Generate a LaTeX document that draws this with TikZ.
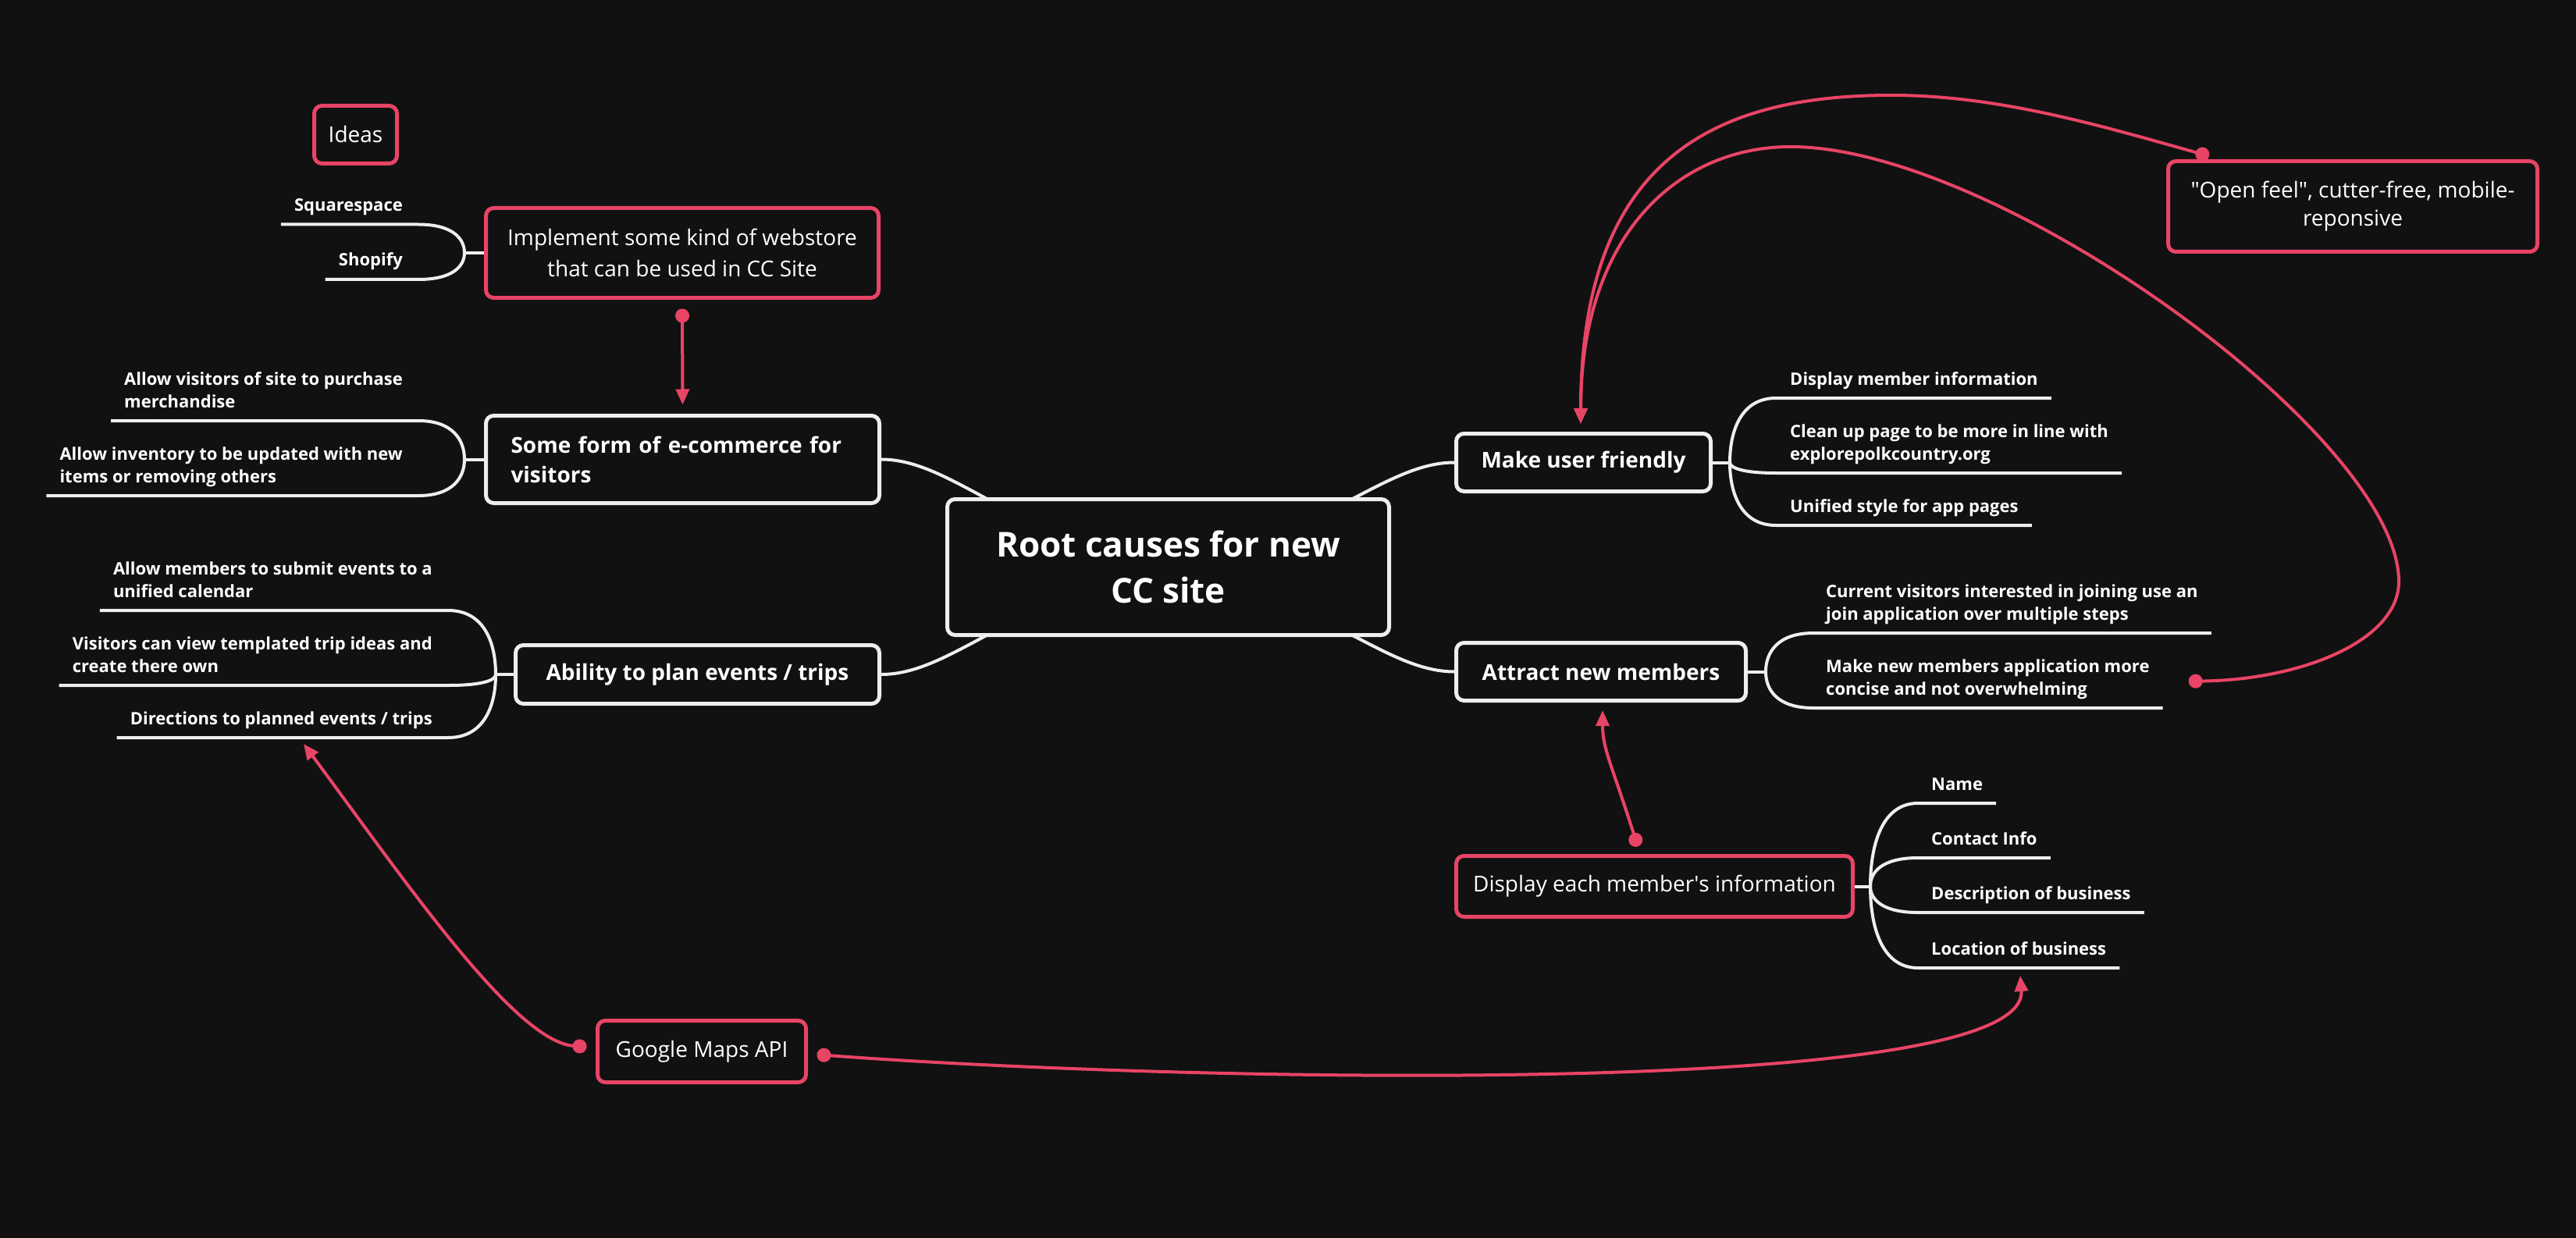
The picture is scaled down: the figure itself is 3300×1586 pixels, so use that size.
\documentclass[tikz,border=0pt]{standalone}
\usepackage{fontspec}
\setmainfont{Open Sans}
\newfontfamily\plainos{Open Sans}
\usetikzlibrary{arrows.meta,calc}
\definecolor{bgc}{HTML}{111111}
\definecolor{pinkc}{HTML}{E84466}
\definecolor{linec}{HTML}{EEEEEE}
\pgfdeclarelayer{back}
\pgfsetlayers{back,main}
\begin{document}
\begin{tikzpicture}[x=1pt,y=-1pt,
  wbox/.style={draw=linec, line width=5pt, rounded corners=10pt, fill=bgc, text=white,
    font=\fontsize{28}{38}\selectfont\bfseries, align=center, inner sep=0pt},
  pbox/.style={wbox, draw=pinkc, font=\fontsize{28}{40}\selectfont},
  leaf/.style={text=white, font=\fontsize{22}{29}\selectfont\bfseries, inner sep=0pt, align=left},
  branch/.style={draw=linec, line width=4pt},
  plink/.style={draw=pinkc, line width=4pt, {Circle[length=18pt]}-{Triangle[length=20pt,width=17pt]}},
]
\begin{pgfonlayer}{back}
\path[use as bounding box, fill=bgc] (0,0) rectangle (3300,1586);
\end{pgfonlayer}

% boxes
\node[pbox, minimum width=106pt, minimum height=74pt] (ideas) at (455.5,172.5) {Ideas};
\node[pbox, minimum width=503pt, minimum height=115pt] (impl) at (874,324) {Implement some kind of webstore\\that can be used in CC Site};
\node[wbox, minimum width=504pt, minimum height=112pt, text width=440pt, align=left] (ecom) at (874.5,588.5) {Some form of e-commerce for\\visitors};
\node[wbox, minimum width=466pt, minimum height=75pt] (abil) at (893.5,864) {Ability to plan events / trips};
\node[wbox, minimum width=566pt, minimum height=174pt, font=\fontsize{44}{59}\selectfont\bfseries] (root) at (1496.5,726.5) {Root causes for new\\CC site};
\node[wbox, minimum width=326pt, minimum height=74pt] (muf) at (2028.5,592.5) {Make user friendly};
\node[wbox, minimum width=371pt, minimum height=74pt] (att) at (2051,860.5) {Attract new members};
\node[pbox, minimum width=473pt, minimum height=116pt, font=\fontsize{28}{36}\selectfont\plainos] (open) at (3014,264.5) {"Open feel", cutter-free, mobile-\\reponsive};
\node[pbox, minimum width=508pt, minimum height=78pt] (disp) at (2119.5,1135.5) {Display each member\textquotesingle s information};
\node[pbox, minimum width=267pt, minimum height=79pt] (g) at (899,1347) {Google Maps API};

% leaves
\node[leaf, anchor=base east] (sq) at (516,270.5) {Squarespace};
\node[leaf, anchor=base east] (sh) at (516,341) {Shopify};
\node[leaf, anchor=base east] (av) at (516,522) {Allow visitors of site to purchase\\merchandise};
\node[leaf, anchor=base east] (ai) at (516,618) {Allow inventory to be updated with new\\items or removing others};
\node[leaf, anchor=base east] (am) at (554,765) {Allow members to submit events to a\\unified calendar};
\node[leaf, anchor=base east] (vc) at (554,861) {Visitors can view templated trip ideas and\\create there own};
\node[leaf, anchor=base east] (dir) at (554,928) {Directions to planned events / trips};
\node[leaf, anchor=base west] (d1) at (2293,493) {Display member information};
\node[leaf, anchor=base west] (d2) at (2293,589) {Clean up page to be more in line with\\explorepolkcountry.org};
\node[leaf, anchor=base west] (d3) at (2293,656) {Unified style for app pages};
\node[leaf, anchor=base west] (a1) at (2339,794) {Current visitors interested in joining use an\\join application over multiple steps};
\node[leaf, anchor=base west] (a2) at (2339,890) {Make new members application more\\concise and not overwhelming};
\node[leaf, anchor=base west] (n1) at (2474,1012) {Name};
\node[leaf, anchor=base west] (n2) at (2474,1082) {Contact Info};
\node[leaf, anchor=base west] (n3) at (2474,1152) {Description of business};
\node[leaf, anchor=base west] (n4) at (2474,1223) {Location of business};

% root connectors (behind boxes)
\begin{pgfonlayer}{back}
\draw[branch] (ecom.east) .. controls (1220,588.5) and (1300,690) .. (root.center);
\draw[branch] (abil.east) .. controls (1220,864) and (1300,763) .. (root.center);
\draw[branch] (muf.west) .. controls (1773,592.5) and (1693,690) .. (root.center);
\draw[branch] (att.west) .. controls (1773,860.5) and (1693,763) .. (root.center);
\end{pgfonlayer}

% forks
\draw[branch] (impl.west) -- (595,324) coordinate (fi);
\draw[branch] (fi) .. controls (595,305.75) and (580,287.5) .. (536,287.5) -- ($(sq.base west)+(-17,17)$);
\draw[branch] (fi) .. controls (595,341) and (580,358) .. (536,358) -- ($(sh.base west)+(-17,17)$);

\draw[branch] (ecom.west) -- (595,588.5) coordinate (fe);
\draw[branch] (fe) .. controls (595,563.75) and (580,539) .. (536,539) -- ($(av.base west)+(-17,17)$);
\draw[branch] (fe) .. controls (595,611.75) and (580,635) .. (536,635) -- ($(ai.base west)+(-17,17)$);

\draw[branch] (abil.west) -- (635,864) coordinate (fa);
\draw[branch] (fa) .. controls (635,823) and (620,782) .. (574,782) -- ($(am.base west)+(-17,17)$);
\draw[branch] (fa) .. controls (635,871) and (620,878) .. (574,878) -- ($(vc.base west)+(-17,17)$);
\draw[branch] (fa) .. controls (635,904.5) and (620,945) .. (574,945) -- ($(dir.base west)+(-17,17)$);

\draw[branch] (muf.east) -- (2216,592.5) coordinate (fm);
\draw[branch] (fm) .. controls (2216,551) and (2231,510) .. (2275,510) -- ($(d1.base east)+(17,17)$);
\draw[branch] (fm) .. controls (2216,599) and (2231,606) .. (2275,606) -- ($(d2.base east)+(17,17)$);
\draw[branch] (fm) .. controls (2216,633) and (2231,673) .. (2275,673) -- ($(d3.base east)+(17,17)$);

\draw[branch] (att.east) -- (2262,860.5) coordinate (fn);
\draw[branch] (fn) .. controls (2262,836) and (2277,811) .. (2323,811) -- ($(a1.base east)+(17,17)$);
\draw[branch] (fn) .. controls (2262,884) and (2277,907) .. (2323,907) -- ($(a2.base east)+(17,17)$);

\draw[branch] (disp.east) -- (2396,1135.5) coordinate (fd);
\draw[branch] (fd) .. controls (2396,1082) and (2411,1029) .. (2457,1029) -- ($(n1.base east)+(17,17)$);
\draw[branch] (fd) .. controls (2396,1117) and (2411,1099) .. (2457,1099) -- ($(n2.base east)+(17,17)$);
\draw[branch] (fd) .. controls (2396,1152) and (2411,1169) .. (2457,1169) -- ($(n3.base east)+(17,17)$);
\draw[branch] (fd) .. controls (2396,1188) and (2411,1240) .. (2457,1240) -- ($(n4.base east)+(17,17)$);

% pink links
\coordinate (dirtip) at (389,953);
\coordinate (loctip) at (2588,1250);
\draw[plink, shorten <=11.5pt, shorten >=11.5pt] (impl.south) -- (ecom.north);
\draw[plink] ($(g.west)+(-11.5,-6)$) .. controls (660,1335) and (520,1130) .. (dirtip);
\draw[plink] ($(g.east)+(11.5,4)$) .. controls (1500,1385) and (2600,1410) .. (loctip);
\draw[plink] ($(disp.north)+(-21.5,-9.5)$) .. controls (2065,980) and (2053,960) .. ($(att.south)+(2,10)$);
\draw[plink] ($(open.north west)+(55,-4)$) .. controls (2691,161) and (2560,122) .. (2423,122)
   .. controls (2200,122) and (2025,200) .. ($(muf.north)+(-3.5,-10)$);
\draw[plink] ($(a2.east)+(50,3)$) .. controls (2950,871) and (3073,820) .. (3073,745)
   .. controls (3073,560) and (2560,188) .. (2294,188)
   .. controls (2150,188) and (2025,300) .. ($(muf.north)+(-3.5,-10)$);
\end{tikzpicture}
\end{document}
